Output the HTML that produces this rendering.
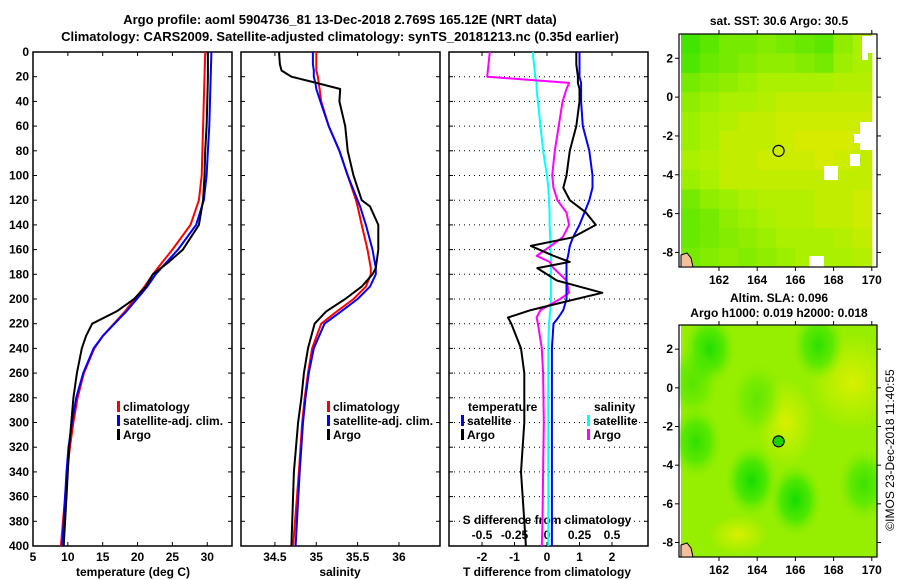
<!DOCTYPE html>
<html><head><meta charset="utf-8">
<style>
body{margin:0;background:#fff;}
svg{display:block;font-family:"Liberation Sans",sans-serif;font-weight:bold;}
text{font-size:12px;fill:#000;}
</style></head>
<body>
<svg id="fig" width="900" height="580" viewBox="0 0 900 580">
<text x="340" y="24" text-anchor="middle" style="font-size:13px">Argo profile: aoml 5904736_81 13-Dec-2018 2.769S 165.12E (NRT data)</text>
<text x="340" y="41" text-anchor="middle" style="font-size:13px">Climatology: CARS2009. Satellite-adjusted climatology: synTS_20181213.nc (0.35d earlier)</text>
<text transform="translate(894,450) rotate(-90)" text-anchor="middle" style="font-weight:normal">©IMOS 23-Dec-2018 11:40:55</text>
</svg>
<script>
// ---- data ----
const depths = [0,20,40,60,80,100,120,140,160,170,180,190,200,210,220,230,240,260,280,300,320,340,360,380,400];
const tempArgo = [30.1,30.1,30.0,29.9,29.7,29.6,29.4,28.8,26.5,24.5,22.2,21.2,19.5,17.0,13.5,12.6,12.0,11.3,10.8,10.5,10.2,10.0,9.8,9.6,9.4];
const tempClim = [29.7,29.6,29.5,29.4,29.3,29.2,28.8,27.6,25.0,23.6,22.2,21.0,19.6,18.2,16.6,15.0,13.8,12.3,11.4,10.8,10.3,9.9,9.6,9.3,9.0];
const tempSat = [30.6,30.5,30.4,30.3,30.1,29.9,29.5,28.4,25.8,24.2,22.6,21.4,19.9,18.4,16.7,15.0,13.7,12.2,11.2,10.6,10.1,9.8,9.6,9.4,9.2];
const salDepths = [0,10,15,20,25,30,40,60,80,100,120,125,140,160,175,180,190,200,210,220,240,260,280,300,340,400];
const salArgo = [34.55,34.56,34.58,34.7,35.0,35.29,35.28,35.35,35.38,35.45,35.55,35.65,35.75,35.75,35.72,35.68,35.55,35.35,35.12,34.98,34.9,34.85,34.82,34.78,34.73,34.7];
const salClim = [35.0,35.0,35.0,35.02,35.03,35.04,35.06,35.15,35.28,35.38,35.48,35.5,35.55,35.62,35.66,35.66,35.6,35.45,35.25,35.06,34.95,34.9,34.86,34.83,34.79,34.72];
const salSat = [34.96,34.96,34.97,34.97,34.99,35.0,35.05,35.15,35.28,35.38,35.5,35.53,35.6,35.68,35.72,35.72,35.65,35.5,35.3,35.1,34.97,34.91,34.87,34.84,34.8,34.75];
const diffDepths = [0,10,20,25,30,40,60,80,100,110,120,130,140,150,157,165,170,175,185,195,200,209,215,220,240,260,300,340,380,400];
const tDiffArgo = [0.9,0.9,0.95,0.95,1.0,1.0,0.9,0.7,0.6,0.5,0.7,1.2,1.5,0.8,-0.5,0.2,0.7,-0.3,0.3,1.7,0.9,-0.5,-1.2,-1.1,-0.8,-0.7,-0.7,-0.8,-0.7,-0.65];
const tDiffSat = [1.0,1.0,1.0,1.05,1.05,1.05,1.1,1.3,1.4,1.4,1.3,1.15,1.0,0.8,0.7,0.65,0.6,0.6,0.6,0.6,0.6,0.5,0.35,0.2,0.15,0.15,0.15,0.15,0.15,0.15];
const sDiffSat = [-0.11,-0.1,-0.09,-0.08,-0.08,-0.07,-0.05,-0.03,0.0,0.01,0.015,0.02,0.02,0.025,0.025,0.03,0.03,0.03,0.03,0.03,0.03,0.025,0.02,0.015,0.01,0.01,0.01,0.01,0.01,0.01];
const sDiffArgo = [-0.44,-0.45,-0.46,0.17,0.15,0.12,0.09,0.06,0.04,0.05,0.08,0.15,0.17,0.12,0.03,-0.08,0.02,0.05,0.15,0.17,0.1,-0.05,-0.08,-0.07,-0.04,-0.03,-0.025,-0.03,-0.035,-0.04];
const depthTicks = [0,20,40,60,80,100,120,140,160,180,200,220,240,260,280,300,320,340,360,380,400];
const tempTicks = [5,10,15,20,25,30];
const salTicks = [34.5,35,35.5,36];
const salTickLabels = ['34.5','35','35.5','36'];
const tDiffTicks = [-2,-1,0,1,2];
const sDiffTicks = [-0.5,-0.25,0,0.25,0.5];
const sDiffTickLabels = ['-0.5','-0.25','0','0.25','0.5'];
// maps
const mapLons = [162,164,166,168,170];
const mapLats = [2,0,-2,-4,-6,-8];
const sstGrid = [
[0.1,0.2,0.3,0.3,0.35,0.3,0.25,0.2,0.4,0.5],
[0.15,0.25,0.3,0.35,0.4,0.4,0.35,0.3,0.45,0.5],
[0.3,0.35,0.4,0.45,0.5,0.5,0.5,0.5,0.55,0.55],
[0.4,0.45,0.5,0.5,0.55,0.6,0.6,0.6,0.6,0.6],
[0.45,0.5,0.55,0.6,0.6,0.65,0.65,0.65,0.65,0.65],
[0.45,0.5,0.6,0.6,0.6,0.65,0.7,0.7,0.7,0.65],
[0.5,0.55,0.6,0.6,0.65,0.65,0.65,0.7,0.65,0.6],
[0.45,0.5,0.6,0.6,0.6,0.6,0.6,0.6,0.6,0.6],
[0.3,0.4,0.45,0.5,0.55,0.55,0.55,0.6,0.6,0.65],
[0.25,0.3,0.4,0.45,0.5,0.55,0.55,0.6,0.6,0.65],
[0.25,0.3,0.35,0.4,0.45,0.5,0.5,0.5,0.55,0.6],
[0.3,0.35,0.4,0.35,0.4,0.45,0.5,0.5,0.5,0.55]];
const slaBlobLon = [161.5,167.2,160.8,163.7,166.0,169.6,160.6,164.0];
const slaBlobLat = [2.0,2.2,-2.8,-4.8,-5.8,-5.0,0.3,-0.6];
const slaBlobStrength = [0.9,0.8,0.8,1.0,1.0,0.7,0.5,0.4];
const argoLon = 165.12, argoLat = -2.769;

// ---- helpers ----
const NS='http://www.w3.org/2000/svg';
const svg=document.getElementById('fig');
function mk(tag,attrs,parent){const e=document.createElementNS(NS,tag);for(const k in attrs)e.setAttribute(k,attrs[k]);(parent||svg).appendChild(e);return e;}
function txt(x,y,s,anchor,parent){const t=mk('text',{x:x,y:y,'text-anchor':anchor||'middle'},parent);t.textContent=s;return t;}
const Y0=52, Y1=546;
const yDepth=z=>Y0+z*(Y1-Y0)/400;
const xT=t=>33+(t-5)*6.97;
const xS=s=>241+(s-34.09)*82.7;
const xD=d=>547+d*32.5;
const xSd=s=>547+s*4*32.5;

function frame(x0,x1,name){
  const g=mk('g',{});
  
  
  mk('rect',{x:x0,y:Y0,width:x1-x0,height:Y1-Y0,fill:'none',stroke:'#000','stroke-width':1.5},g);
  depthTicks.forEach(z=>{const y=yDepth(z);mk('line',{x1:x0,x2:x0+4,y1:y,y2:y,stroke:'#000'},g);mk('line',{x1:x1-4,x2:x1,y1:y,y2:y,stroke:'#000'},g);});
  return g;
}
function line(xs,zs,xf,color,name,w){
  const d=xs.map((v,i)=>(i?'L':'M')+xf(v).toFixed(1)+','+yDepth(zs[i]).toFixed(1)).join('');
  const p=mk('path',{d:d,fill:'none',stroke:color,'stroke-width':w||2,'stroke-linejoin':'round'});
  
  
}
function legendEntry(x,y,color,label,name){
  const g=mk('g',{});
  
  
  mk('rect',{x:x,y:y-10,width:3,height:11,fill:color},g);
  txt(x+6,y,label,'start',g);
}

// ---- panel 1: temperature ----
frame(33,232,'temperature-panel');
depthTicks.forEach(z=>{const t=txt(29,yDepth(z)+4,String(z),'end');});
tempTicks.forEach(t=>{const x=xT(t);mk('line',{x1:x,x2:x,y1:Y1,y2:Y1-4,stroke:'#000'});mk('line',{x1:x,x2:x,y1:Y0,y2:Y0+4,stroke:'#000'});txt(x,561,String(t));});
txt(133,576,'temperature (deg C)');
line(tempClim,depths,xT,'#f00','temp-climatology-line');
line(tempSat,depths,xT,'#00f','temp-satellite-line');
line(tempArgo,depths,xT,'#000','temp-argo-line');
legendEntry(117,411,'#f00','climatology','legend-climatology');
legendEntry(117,425,'#00f','satellite-adj. clim.','legend-satellite');
legendEntry(117,439,'#000','Argo','legend-argo');

// ---- panel 2: salinity ----
frame(241,440,'salinity-panel');
salTicks.forEach((s,i)=>{const x=xS(s);mk('line',{x1:x,x2:x,y1:Y1,y2:Y1-4,stroke:'#000'});mk('line',{x1:x,x2:x,y1:Y0,y2:Y0+4,stroke:'#000'});txt(x,561,salTickLabels[i]);});
txt(340,576,'salinity');
line(salClim,salDepths,xS,'#f00','sal-climatology-line');
line(salSat,salDepths,xS,'#00f','sal-satellite-line');
line(salArgo,salDepths,xS,'#000','sal-argo-line');
legendEntry(327,411,'#f00','climatology','legend-sal-climatology');
legendEntry(327,425,'#00f','satellite-adj. clim.','legend-sal-satellite');
legendEntry(327,439,'#000','Argo','legend-sal-argo');

// ---- panel 3: differences ----
frame(449,648,'difference-panel');
depthTicks.forEach(z=>{const y=yDepth(z);mk('line',{x1:449,x2:648,y1:y,y2:y,stroke:'#000','stroke-dasharray':'1,4'});});
tDiffTicks.forEach(d=>{const x=xD(d);mk('line',{x1:x,x2:x,y1:Y1,y2:Y1-4,stroke:'#000'});mk('line',{x1:x,x2:x,y1:Y0,y2:Y0+4,stroke:'#000'});txt(x,561,String(d));});
sDiffTicks.forEach((s,i)=>{txt(xSd(s),539,sDiffTickLabels[i]);});
txt(547,524,'S difference from climatology');
txt(547,576,'T difference from climatology');
line(sDiffSat,diffDepths,xSd,'#0ff','s-diff-satellite-line');
line(sDiffArgo,diffDepths,xSd,'#f0f','s-diff-argo-line');
line(tDiffSat,diffDepths,xD,'#00f','t-diff-satellite-line');
line(tDiffArgo,diffDepths,xD,'#000','t-diff-argo-line');
txt(468,411,'temperature','start');
legendEntry(461,425,'#00f','satellite','legend-t-satellite');
legendEntry(461,439,'#000','Argo','legend-t-argo');
txt(594,411,'salinity','start');
legendEntry(587,425,'#0ff','satellite','legend-s-satellite');
legendEntry(587,439,'#f0f','Argo','legend-s-argo');

// ---- maps ----
function colorOf(v){
  const stops=[[0,[40,225,0]],[0.5,[170,240,0]],[0.7,[215,235,0]],[1,[240,140,0]]];
  for(let i=1;i<stops.length;i++){if(v<=stops[i][0]){const a=stops[i-1],b=stops[i],f=(v-a[0])/(b[0]-a[0]);return 'rgb('+a[1].map((c,k)=>Math.round(c+(b[1][k]-c)*f)).join(',')+')';}}
  return 'rgb(240,140,0)';
}
function mapFrame(top,bottom,name){
  const mx=lon=>719+(lon-162)*19.1;
  const my=lat=>top+ (3.25-lat)*(bottom-top)/12;
  const g=mk('g',{});
  
  
  return {g,mx,my};
}
function mapAxes(m,top,bottom){
  mk('rect',{x:679,y:top,width:198,height:bottom-top,fill:'none',stroke:'#000','stroke-width':1.2},m.g);
  mapLons.forEach(l=>{const x=m.mx(l);mk('line',{x1:x,x2:x,y1:bottom,y2:bottom+4,stroke:'#000'},m.g);mk('line',{x1:x,x2:x,y1:top-4,y2:top,stroke:'#000'},m.g);txt(x,bottom+17,String(l),'middle',m.g);});
  mapLats.forEach(l=>{const y=m.my(l);mk('line',{x1:675,x2:679,y1:y,y2:y,stroke:'#000'},m.g);mk('line',{x1:877,x2:881,y1:y,y2:y,stroke:'#000'},m.g);txt(673,y+4,String(l),'end',m.g);});
  mk('path',{d:'M681,'+(bottom-12)+' l6,-2 l4,5 l2,9 l-12,0z',fill:'#f4c09a',stroke:'#000','stroke-width':1},m.g);
}
// SST map
const T1=34,B1=267;
const m1=mapFrame(T1,B1,'sst-map');
sstGrid.forEach((row,r)=>row.forEach((v,c)=>{
  const x0=m1.mx(160+c),y0=m1.my(3.25-r);
  mk('rect',{x:Math.max(681,x0),y:y0,width:m1.mx(161+c)-Math.max(681,x0)+0.5,height:m1.my(2.25-r)-y0+0.5,fill:colorOf(v)},m1.g);
}));
mk('rect',{x:862,y:T1+2,width:15,height:17,fill:'#fff'},m1.g);
mk('rect',{x:862,y:T1+2,width:6,height:24,fill:'#fff'},m1.g);
mk('rect',{x:860,y:122,width:17,height:28,fill:'#fff'},m1.g);
mk('rect',{x:854,y:134,width:10,height:9,fill:'#fff'},m1.g);
mk('rect',{x:850,y:154,width:10,height:12,fill:'#fff'},m1.g);
mk('rect',{x:824,y:166,width:14,height:14,fill:'#fff'},m1.g);
mk('rect',{x:809,y:256,width:15,height:11,fill:'#fff'},m1.g);
mapAxes(m1,T1,B1);
const c1=mk('circle',{cx:m1.mx(argoLon),cy:m1.my(argoLat),r:5.5,fill:'none',stroke:'#000','stroke-width':1.2});


txt(779,25,'sat. SST: 30.6 Argo: 30.5');

// SLA map
const T2=325,B2=557;
const m2=mapFrame(T2,B2,'sla-map');
const defs=mk('defs',{});
const cp=mk('clipPath',{id:'slaclip'},defs);
mk('rect',{x:679,y:T2,width:198,height:B2-T2},cp);
const rg=mk('radialGradient',{id:'blob'},defs);
mk('stop',{offset:'0','stop-color':'rgb(20,220,0)','stop-opacity':1},rg);
mk('stop',{offset:'0.55','stop-color':'rgb(60,230,0)','stop-opacity':0.8},rg);
mk('stop',{offset:'1','stop-color':'rgb(120,235,0)','stop-opacity':0},rg);
const yg=mk('radialGradient',{id:'yblob'},defs);
mk('stop',{offset:'0','stop-color':'rgb(215,240,0)','stop-opacity':1},yg);
mk('stop',{offset:'1','stop-color':'rgb(215,240,0)','stop-opacity':0},yg);
const inner=mk('g',{'clip-path':'url(#slaclip)'},m2.g);
mk('rect',{x:681,y:T2,width:196,height:B2-T2,fill:'rgb(150,238,0)'},inner);
mk('ellipse',{cx:m2.mx(169),cy:m2.my(0.3),rx:45,ry:50,fill:'url(#yblob)'},inner);
mk('ellipse',{cx:m2.mx(165.5),cy:m2.my(-1.8),rx:30,ry:45,fill:'url(#yblob)'},inner);
mk('ellipse',{cx:m2.mx(163),cy:m2.my(-7.6),rx:30,ry:20,fill:'url(#yblob)'},inner);
slaBlobLon.forEach((lon,i)=>{
  const e=mk('ellipse',{cx:m2.mx(lon),cy:m2.my(slaBlobLat[i]),rx:26,ry:36,fill:'url(#blob)',opacity:slaBlobStrength[i]},inner);
  
  
});
mapAxes(m2,T2,B2);
const c2=mk('circle',{cx:m2.mx(argoLon),cy:m2.my(argoLat),r:5.5,fill:'rgb(30,210,0)',stroke:'#000','stroke-width':1.2});


txt(779,302,'Altim. SLA: 0.096');
txt(779,317,'Argo h1000: 0.019 h2000: 0.018');
</script>
</body></html>
